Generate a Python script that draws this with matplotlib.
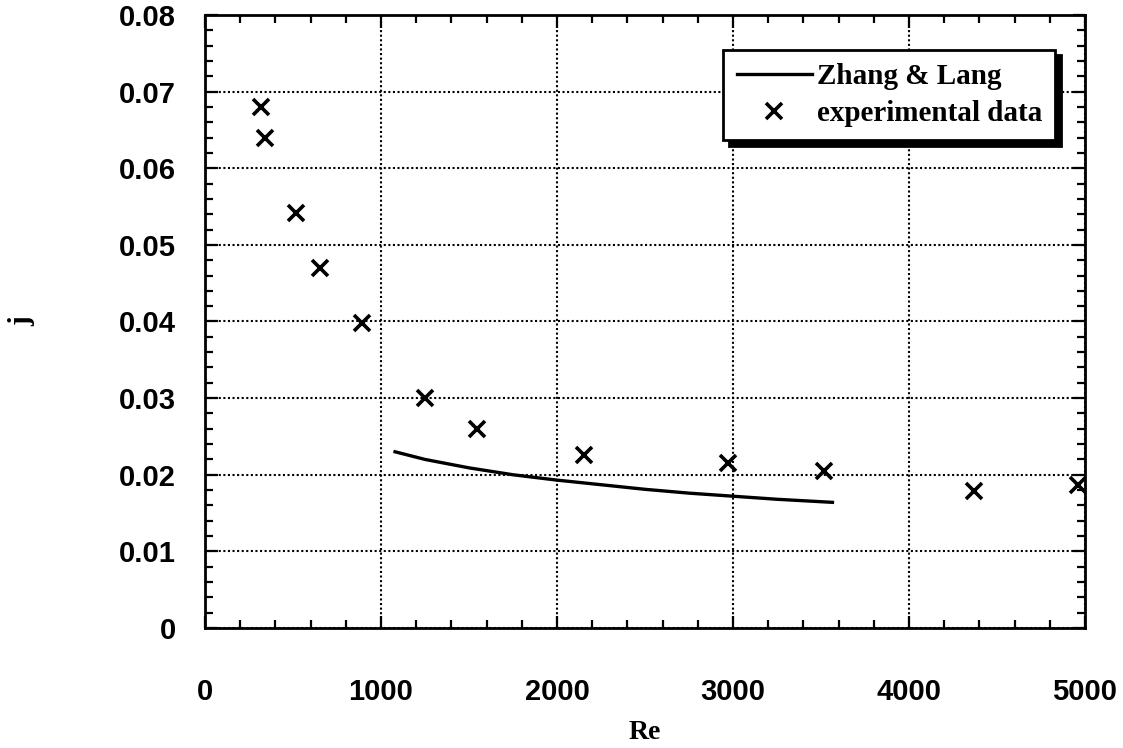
import matplotlib
matplotlib.use("Agg")
import matplotlib.pyplot as plt
from matplotlib.ticker import MultipleLocator, FormatStrFormatter

# Zhang & Lang correlation (solid curve)
corr_re = [1080, 1250, 1500, 1750, 2000, 2250, 2500, 2750, 3000, 3250, 3565]
corr_j = [0.0230, 0.0220, 0.0209, 0.0200, 0.0193, 0.0187, 0.0181, 0.0176, 0.0172, 0.0168, 0.0164]

# Experimental data (crosses)
exp_re = [321, 342, 518, 654, 891, 1248, 1547, 2155, 2972, 3515, 4367, 4958]
exp_j = [0.0680, 0.0640, 0.0541, 0.0470, 0.0398, 0.0300, 0.0260, 0.0226, 0.0215, 0.0205, 0.0179, 0.0187]

x_ticks = [0, 1000, 2000, 3000, 4000, 5000]
y_ticks = [0, 0.01, 0.02, 0.03, 0.04, 0.05, 0.06, 0.07, 0.08]

sans = ["Liberation Sans", "DejaVu Sans"]
serif = ["Liberation Serif", "DejaVu Serif"]

fig = plt.figure(figsize=(11.23, 7.48), dpi=100)
ax = fig.add_axes([0.1825, 0.1604, 0.7837, 0.8196])

ax.plot(corr_re, corr_j, color="black", lw=2.4, label="Zhang & Lang", zorder=3)
ax.plot(exp_re, exp_j, ls="none", marker="x", ms=11, mew=2.6, color="black",
        label="experimental data", zorder=4)

ax.set_xlim(0, 5000)
ax.set_ylim(0, 0.08)
ax.set_xticks(x_ticks)
ax.set_yticks(y_ticks)
ax.xaxis.set_minor_locator(MultipleLocator(200))
ax.yaxis.set_minor_locator(MultipleLocator(0.002))
ax.yaxis.set_major_formatter(FormatStrFormatter("%g"))

ax.grid(True, which="major", color="black", lw=1.5, linestyle=(0, (1, 1.2)))
ax.tick_params(which="both", direction="in", top=True, right=True, width=1.6, colors="black")
ax.tick_params(which="major", length=9)
ax.tick_params(which="minor", length=6)
ax.tick_params(axis="y", which="major", pad=21)
ax.tick_params(axis="x", which="major", pad=36)
for spine in ax.spines.values():
    spine.set_linewidth(2.0)

for lbl in ax.get_xticklabels() + ax.get_yticklabels():
    lbl.set_fontfamily(sans)
    lbl.set_fontweight("bold")
    lbl.set_fontsize(21)

ax.set_xlabel("Re", fontfamily=serif, fontweight="bold", fontsize=20, labelpad=10)
ax.set_ylabel("j", fontfamily=serif, fontweight="bold", fontsize=21, labelpad=60)

leg = ax.legend(loc="upper right", bbox_to_anchor=(0.966, 0.943), borderaxespad=0,
                prop={"family": serif, "weight": "bold", "size": 21},
                frameon=True, fancybox=False, handlelength=2.6, handletextpad=0.15,
                borderpad=0.45, labelspacing=0.35,
                shadow={"ox": 4, "oy": -4, "facecolor": "black",
                        "edgecolor": "black", "alpha": 1})
leg.get_frame().set_edgecolor("black")
leg.get_frame().set_linewidth(2.0)
leg.get_frame().set_alpha(1)
leg.set_zorder(10)

fig.savefig("out.png", dpi=100)
